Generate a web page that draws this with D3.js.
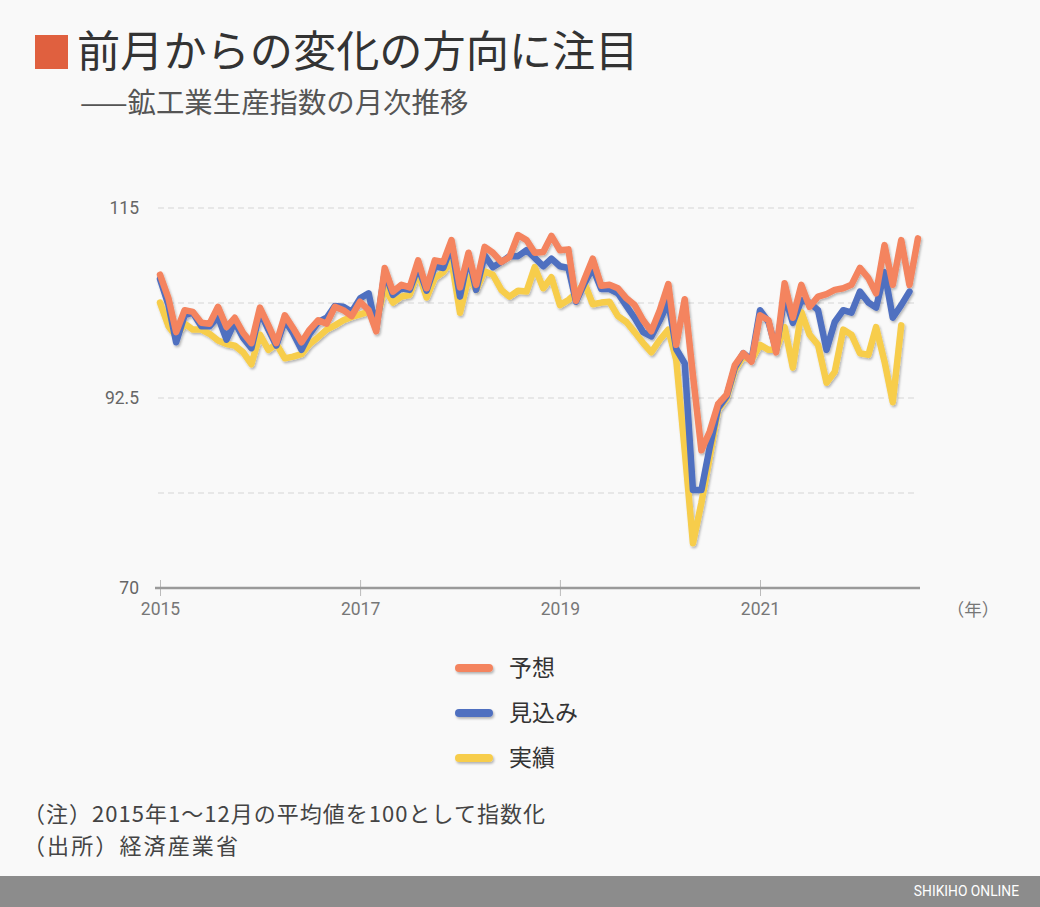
<!DOCTYPE html>
<html><head><meta charset="utf-8">
<script src="https://cdn.jsdelivr.net/npm/d3@7"></script>
<style>
body{margin:0;background:#f9f9f9;}
svg{display:block;}
</style></head>
<body><svg id="c" width="1040" height="907"></svg>
<script>
// ---- data ----
const seriesNames = ["予想", "見込み", "実績"];
const startMonth = "2015-01";
// 予想 (Jan 2015 – Aug 2022)
const forecast = [107.1,104.3,100.3,102.9,102.7,101.4,101.3,103.3,100.9,102.0,100.2,99.0,
  103.2,101.1,99.0,102.3,100.8,99.1,100.6,101.7,101.3,103.3,102.9,102.2,
  103.9,102.9,100.4,107.9,105.1,105.9,105.6,108.8,105.5,108.8,108.6,111.2,
  105.6,109.7,105.9,110.4,109.7,108.6,109.2,111.8,111.2,109.7,109.8,111.7,
  110.0,110.1,104.0,106.6,109.0,105.8,105.9,105.5,104.3,103.5,101.7,100.4,
  102.9,106.0,98.8,104.2,95.2,86.3,88.5,91.8,92.9,96.4,97.8,96.8,
  102.3,101.7,97.9,106.1,102.0,105.9,103.3,104.5,104.8,105.3,105.5,105.9,
  107.9,106.7,104.9,110.6,105.9,111.2,105.9,111.4];
// 見込み (Jan 2015 – Jul 2022)
const expected = [106.6,103.5,99.1,102.3,102.6,101.0,101.0,102.1,99.4,101.5,99.6,98.4,
  102.7,100.6,98.7,101.7,100.2,98.2,100.1,101.5,102.0,103.4,103.3,102.7,
  104.3,104.9,100.7,107.4,104.7,105.5,105.3,108.0,105.2,108.1,107.9,110.5,
  104.5,109.3,105.3,109.4,108.0,108.6,109.3,109.3,110.0,109.1,108.1,109.0,
  108.1,107.9,103.9,106.1,107.9,105.4,105.4,104.9,103.4,102.0,100.3,99.8,
  101.7,103.9,98.3,96.6,81.6,81.6,86.6,91.3,92.7,96.1,97.8,97.0,
  102.9,101.5,98.2,104.6,101.4,104.1,103.8,102.9,98.2,101.5,102.9,102.6,
  105.1,103.8,103.2,107.4,102.0,103.5,105.1];
// 実績 (Jan 2015 – Jun 2022)
const actual = [103.8,101.0,99.8,101.3,100.6,100.6,100.1,99.3,98.9,98.7,97.9,96.5,
  100.0,98.2,98.9,97.2,97.4,97.7,98.9,99.7,100.6,101.1,101.7,102.1,
  102.4,102.7,101.5,105.6,103.8,104.5,104.7,107.4,104.4,106.7,107.4,108.8,
  102.6,106.8,105.3,107.5,107.1,105.3,104.5,105.2,105.1,108.0,105.5,106.8,
  103.5,104.1,104.9,106.1,103.6,103.8,103.9,102.2,101.5,100.3,99.0,97.9,
  99.4,100.6,97.0,86.3,75.3,80.1,85.4,91.1,92.5,95.8,97.4,97.0,
  98.8,98.2,98.2,100.9,96.1,102.7,100.0,98.8,94.3,95.6,100.6,100.0,
  97.8,97.6,100.9,96.8,92.0,101.1];
const yTickValues = [70, 92.5, 115];
const gridValues = [81.25, 92.5, 103.75, 115];
const xTickYears = [2015, 2017, 2019, 2021];
const seriesColors = ["#f4845f", "#5070c0", "#f7cd4c"];
const notes = ["（注）2015年1～12月の平均値を100として指数化", "（出所）経済産業省"];

// ---- drawing ----
const svg = d3.select("#c");
const W = 1040, H = 907;
svg.append("rect").attr("width", W).attr("height", H).attr("fill", "#f9f9f9");

const defs = svg.append("defs");
const f = defs.append("filter").attr("id", "sh").attr("filterUnits", "userSpaceOnUse")
  .attr("x", 0).attr("y", 0).attr("width", W).attr("height", H);
f.append("feDropShadow").attr("dx", 1.2).attr("dy", 1.8).attr("stdDeviation", 1.2)
  .attr("flood-color", "#000").attr("flood-opacity", 0.28);

const parse = d3.timeParse("%Y-%m");
const t0 = parse(startMonth);
const monthAt = i => d3.timeMonth.offset(t0, i);

const x = d3.scaleTime().domain([new Date(2015, 0, 1), new Date(2021, 0, 1)]).range([160, 760]);
const y = d3.scaleLinear().domain([70, 115]).range([588, 208]);

const JP = "'Noto Sans CJK JP', 'Noto Sans', sans-serif";
const NUM = "Roboto, 'Noto Sans CJK JP', sans-serif";

// title
svg.append("rect").attr("x", 35).attr("y", 35).attr("width", 33).attr("height", 34).attr("fill", "#e0603f");
svg.append("text").attr("x", 77).attr("y", 67).attr("font-family", JP).attr("font-size", 43.2)
  .attr("fill", "#333").text("前月からの変化の方向に注目");
svg.append("text").attr("x", 80).attr("y", 113).attr("font-family", JP).attr("font-size", 28.4)
  .attr("fill", "#555").text("——鉱工業生産指数の月次推移");

// grid
const g = svg.append("g");
g.selectAll("line.grid").data(gridValues).join("line")
  .attr("x1", 158).attr("x2", 918)
  .attr("y1", d => y(d)).attr("y2", d => y(d))
  .attr("stroke", "#d6d6d6").attr("stroke-width", 1.2).attr("stroke-dasharray", "6,4");

// y labels
g.selectAll("text.yl").data(yTickValues).join("text")
  .attr("x", 139).attr("y", d => y(d)).attr("dy", "0.35em").attr("text-anchor", "end")
  .attr("font-family", NUM).attr("font-size", 17.5).attr("fill", "#666")
  .text(d => d);

// x axis
const xAxis = d3.axisBottom(x)
  .tickValues(xTickYears.map(yr => new Date(yr, 0, 1)))
  .tickFormat(d3.timeFormat("%Y"))
  .tickSize(0).tickPadding(15);
const ax = svg.append("g").attr("transform", "translate(0,588)").call(xAxis);
ax.select(".domain").remove();
ax.selectAll("text").attr("font-family", NUM).attr("font-size", 17.5).attr("fill", "#777");
ax.selectAll(".tick").append("line").attr("y1", -8).attr("y2", 8).attr("stroke", "#bbb").attr("stroke-width", 1);
svg.append("line").attr("x1", 155).attr("x2", 920).attr("y1", 588).attr("y2", 588)
  .attr("stroke", "#9a9a9a").attr("stroke-width", 2.5);
svg.append("text").attr("x", 973).attr("y", 610).attr("dy", "0.35em").attr("text-anchor", "middle")
  .attr("font-family", JP).attr("font-size", 17.5).attr("fill", "#777").text("（年）");

// lines
const line = d3.line().x((d, i) => x(monthAt(i))).y(d => y(d));
const all = [forecast, expected, actual];
const lg = svg.append("g").attr("filter", "url(#sh)");
[2, 1, 0].forEach(k => {
  lg.append("path").datum(all[k]).attr("d", line)
    .attr("fill", "none").attr("stroke", seriesColors[k]).attr("stroke-width", 6.5)
    .attr("stroke-linejoin", "round").attr("stroke-linecap", "round");
});

// legend
const leg = svg.append("g").attr("filter", "url(#sh)");
seriesNames.forEach((n, k) => {
  const yy = 668 + k * 45;
  leg.append("rect").attr("x", 455).attr("y", yy - 4).attr("width", 38).attr("height", 8).attr("rx", 4)
    .attr("fill", seriesColors[k]);
});
seriesNames.forEach((n, k) => {
  const yy = 668 + k * 45;
  svg.append("text").attr("x", 509).attr("y", yy).attr("dy", "0.35em")
    .attr("font-family", JP).attr("font-size", 23).attr("fill", "#333").text(n);
});

// notes
const noteY = [814, 846];
const noteLen = [522, 215];
notes.forEach((t, k) => {
  svg.append("text").attr("x", 23).attr("y", noteY[k]).attr("dy", "0.35em")
    .attr("font-family", JP).attr("font-size", 22).attr("fill", "#444")
    .attr("textLength", noteLen[k]).attr("lengthAdjust", "spacing").text(t);
});

// footer
svg.append("rect").attr("x", 0).attr("y", 876).attr("width", W).attr("height", 31).attr("fill", "#8c8c8c");
svg.append("text").attr("x", 1019).attr("y", 891).attr("dy", "0.35em").attr("text-anchor", "end")
  .attr("font-family", NUM).attr("font-size", 13.8).attr("fill", "#fff").text("SHIKIHO ONLINE");
</script>
</body></html>
